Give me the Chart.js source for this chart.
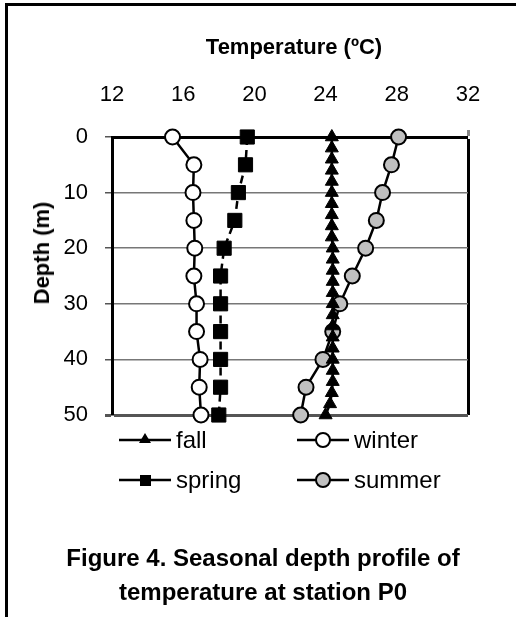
<!DOCTYPE html>
<html>
<head>
<meta charset="utf-8">
<script src="https://cdn.jsdelivr.net/npm/chart.js@4.4.1/dist/chart.umd.min.js"></script>
<style>
  body { margin: 0; background: #fff; font-family: "Liberation Sans", Arial, sans-serif; }
  #wrap { position: relative; width: 516px; height: 617px; overflow: hidden; }
  #chart { position: absolute; left: 0; top: 0; }
  .frameL { position: absolute; left: 5px; top: 3px; width: 3px; height: 614px; background: #000; }
  .frameT { position: absolute; left: 5px; top: 3px; width: 511px; height: 3px; background: #000; }
  .xtitle { position: absolute; left: 0; top: 34px; width: 588px; text-align: center; font-weight: bold; font-size: 22px; }
  .ytitle { position: absolute; left: 42px; top: 253px; transform: translate(-50%, -50%) rotate(-90deg); font-weight: bold; font-size: 22px; white-space: nowrap; }
  .leg { position: absolute; font-size: 24px; line-height: 24px; display: flex; align-items: center; }
  .leg svg { margin-right: 5px; }
  .caption { position: absolute; left: 0; width: 526px; text-align: center; font-weight: bold; font-size: 24px; }
</style>
</head>
<body>
<div id="wrap">
  <canvas id="chart" width="516" height="617"></canvas>
  <div class="frameL"></div>
  <div class="frameT"></div>
  <div class="xtitle">Temperature (ºC)</div>
  <div class="ytitle">Depth (m)</div>
  <div id="legend"></div>
  <div class="caption" style="top:544px">Figure 4. Seasonal depth profile of</div>
  <div class="caption" style="top:578px">temperature at station P0</div>
</div>
<script>
// depth (m) and temperature (ºC)
const depths = [0, 5, 10, 15, 20, 25, 30, 35, 40, 45, 50];
const winterTemp = [15.4, 16.6, 16.55, 16.6, 16.65, 16.6, 16.75, 16.75, 16.95, 16.9, 17.0];
const springTemp = [19.6, 19.5, 19.1, 18.9, 18.3, 18.1, 18.1, 18.1, 18.1, 18.1, 18.0];
const summerTemp = [28.1, 27.7, 27.2, 26.85, 26.25, 25.5, 24.8, 24.4, 23.85, 22.9, 22.6];

const fallDepths = [0, 2, 4, 6, 8, 10, 12, 14, 16, 18, 20, 22, 24, 26, 28, 30, 32, 34, 36, 38, 40, 42, 44, 46, 48, 50];
const fallTemp = [24.35, 24.35, 24.35, 24.35, 24.35, 24.35, 24.35, 24.35, 24.35, 24.35, 24.4, 24.4, 24.4, 24.4, 24.4, 24.4,
                  24.4, 24.4, 24.4, 24.4, 24.4, 24.4, 24.4, 24.35, 24.25, 24.0];

const xTicks = [12, 16, 20, 24, 28, 32];
const yTicks = [0, 10, 20, 30, 40, 50];

function pts(temps, ds) {
  return temps.map((t, i) => ({ x: t, y: ds[i] }));
}

const ctx = document.getElementById('chart');

new Chart(ctx, {
  type: 'scatter',
  data: {
    datasets: [
      {
        label: 'fall',
        data: pts(fallTemp, fallDepths),
        showLine: true,
        borderColor: '#000',
        borderWidth: 2.5,
        pointStyle: 'triangle',
        pointRadius: 7.5,
        pointBackgroundColor: '#000',
        pointBorderColor: '#000',
        pointBorderWidth: 1,
        clip: false
      },
      {
        label: 'winter',
        data: pts(winterTemp, depths),
        showLine: true,
        borderColor: '#000',
        borderWidth: 2.5,
        pointStyle: 'circle',
        pointRadius: 7.5,
        pointBackgroundColor: '#fff',
        pointBorderColor: '#000',
        pointBorderWidth: 2,
        clip: false
      },
      {
        label: 'spring',
        data: pts(springTemp, depths),
        showLine: true,
        borderColor: '#000',
        borderWidth: 2.5,
        borderDash: [8, 5],
        pointStyle: 'rect',
        pointRadius: 10,
        pointBackgroundColor: '#000',
        pointBorderColor: '#000',
        pointBorderWidth: 1,
        clip: false
      },
      {
        label: 'summer',
        data: pts(summerTemp, depths),
        showLine: true,
        borderColor: '#000',
        borderWidth: 2.5,
        pointStyle: 'circle',
        pointRadius: 7.5,
        pointBackgroundColor: '#c0c0c0',
        pointBorderColor: '#000',
        pointBorderWidth: 2,
        clip: false
      }
    ]
  },
  options: {
    responsive: false,
    animation: false,
    layout: { padding: { left: 0, top: 0, right: 48, bottom: 202 } },
    plugins: { legend: { display: false }, tooltip: { enabled: false } },
    scales: {
      x: {
        type: 'linear',
        position: 'top',
        min: 12, max: 32,
        afterBuildTicks: s => { s.ticks = xTicks.map(v => ({ value: v })); },
        afterFit: s => { s.height = 137; },
        ticks: { color: '#000', font: { family: 'Liberation Sans', size: 22 }, padding: 22 },
        border: { display: true, color: '#000', width: 3 },
        grid: {
          drawOnChartArea: true,
          tickLength: 7,
          tickColor: '#888',
          color: c => (c.tick && c.tick.value === 32 ? '#000' : 'rgba(0,0,0,0)'),
          lineWidth: c => (c.tick && c.tick.value === 32 ? 3 : 0)
        }
      },
      y: {
        type: 'linear',
        reverse: true,
        min: 0, max: 50,
        afterBuildTicks: s => { s.ticks = yTicks.map(v => ({ value: v })); },
        afterFit: s => { s.width = 112; },
        ticks: { color: '#000', font: { family: 'Liberation Sans', size: 22 }, padding: 17 },
        border: { display: true, color: '#000', width: 3 },
        grid: {
          tickLength: 7,
          tickColor: '#555',
          color: c => (c.tick && c.tick.value === 0 ? '#000' : (c.tick && c.tick.value === 50 ? '#555' : '#777')),
          lineWidth: c => (c.tick && c.tick.value === 50 ? 3 : 1.5)
        }
      }
    }
  }
});

// legend: line + marker symbol and label, two columns
const legendItems = [
  { label: 'fall', x: 119, y: 440, marker: '<polygon points="26,5 32,15 20,15" fill="#000"/>' },
  { label: 'winter', x: 297, y: 440, marker: '<circle cx="26" cy="12" r="7" fill="#fff" stroke="#000" stroke-width="2"/>' },
  { label: 'spring', x: 119, y: 480, marker: '<rect x="21" y="7" width="11" height="11" fill="#000"/>' },
  { label: 'summer', x: 297, y: 480, marker: '<circle cx="26" cy="12" r="7" fill="#c0c0c0" stroke="#000" stroke-width="2"/>' }
];
const legendEl = document.getElementById('legend');
legendItems.forEach(it => {
  const d = document.createElement('div');
  d.className = 'leg';
  d.style.left = it.x + 'px';
  d.style.top = (it.y - 12) + 'px';
  d.innerHTML = '<svg width="52" height="24"><line x1="0" y1="12" x2="52" y2="12" stroke="#000" stroke-width="2.5"/>' +
    it.marker + '</svg><span>' + it.label + '</span>';
  legendEl.appendChild(d);
});
</script>
</body>
</html>
